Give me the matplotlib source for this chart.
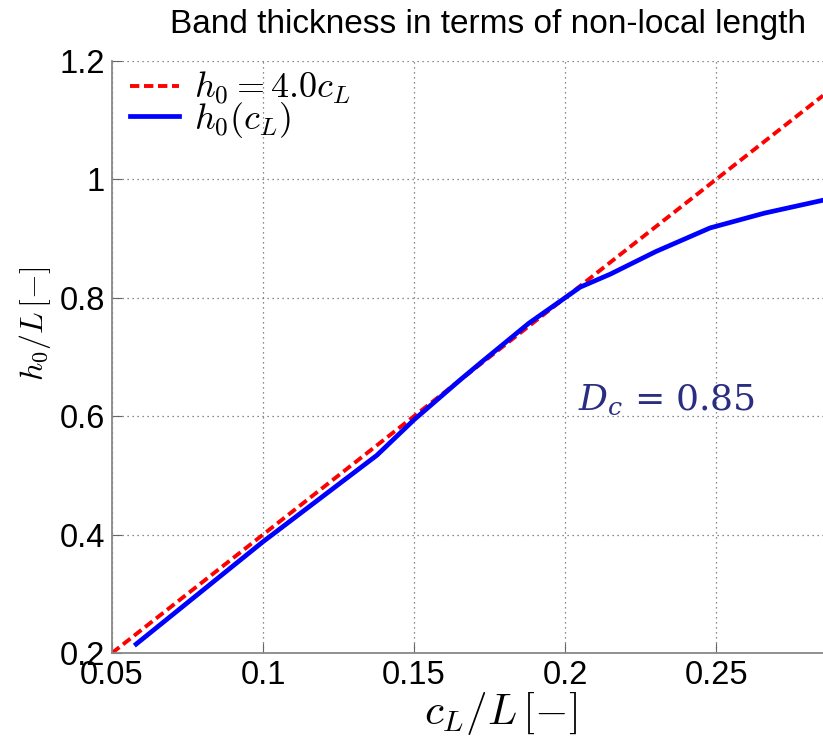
import matplotlib
matplotlib.use("Agg")
import matplotlib.pyplot as plt

# data
cl_fit = [0.05, 0.2854]
slope = 4.0
cl = [0.058, 0.1, 0.1377, 0.15, 0.1652, 0.172, 0.188, 0.2, 0.205,
      0.215, 0.23, 0.248, 0.266, 0.29]
h0 = [0.215, 0.388, 0.534, 0.594, 0.661, 0.69, 0.757, 0.80, 0.818,
      0.84, 0.878, 0.918, 0.943, 0.97]
xticks = [0.05, 0.1, 0.15, 0.2, 0.25]
xtick_labels = ["0.05", "0.1", "0.15", "0.2", "0.25"]
yticks = [0.2, 0.4, 0.6, 0.8, 1.0, 1.2]
ytick_labels = ["0.2", "0.4", "0.6", "0.8", "1", "1.2"]

plt.rcParams['mathtext.fontset'] = 'cm'
plt.rcParams['font.family'] = ['Liberation Sans', 'DejaVu Sans']

W, H = 823, 736
fig = plt.figure(figsize=(W / 100, H / 100), dpi=100)
ax = fig.add_axes([112 / W, 1 - 653 / H, (W - 112) / W, (653 - 61) / H])

fit = [slope * c for c in cl_fit]
ax.plot(cl_fit, fit, color='red', linestyle=(0, (2.4, 1.2)), linewidth=2.8,
        label=r'$h_0 = 4.0c_L$')
ax.plot(cl, h0, color='blue', linewidth=3.4, label=r'$h_0(c_L)$')

ax.set_xlim(0.05, 0.2854)
ax.set_ylim(0.2, 1.2)
ax.set_xticks(xticks)
ax.set_xticklabels(xtick_labels)
ax.set_yticks(yticks)
ax.set_yticklabels(ytick_labels)
ax.tick_params(direction='in', labelsize=23.5, length=7, color='#666666', pad=5)
ax.grid(True, linestyle=(0, (1, 3)), color='#666666', linewidth=0.9)
for s in ['top', 'right']:
    ax.spines[s].set_visible(False)
for s in ['left', 'bottom']:
    ax.spines[s].set_color('#888888')
    ax.spines[s].set_linewidth(1.3)

ax.set_xlabel(r'$c_L/L\,[-]$', fontsize=31)
ax.xaxis.set_label_coords(0.546, -0.062)
ax.set_ylabel(r'$h_0/L\,[-]$', fontsize=23)
ax.yaxis.set_label_coords(-0.083, 0.556)

fig.text(488 / W, 1 - 24 / H, 'Band thickness in terms of non-local length',
         ha='center', va='center', fontsize=24)

ax.text(0.2043, 0.611, r'$D_c$ = 0.85', color='#2b2d80', fontsize=26,
        family='DejaVu Serif', math_fontfamily='dejavuserif',
        ha='left', va='baseline')

ax.legend(loc='upper left', frameon=False, fontsize=26, handlelength=1.35,
          borderaxespad=0.0, borderpad=0.0, labelspacing=-0.2,
          handletextpad=0.42, bbox_to_anchor=(18 / 711, 1 - 9 / 592))

fig.savefig('out.png', dpi=100)
